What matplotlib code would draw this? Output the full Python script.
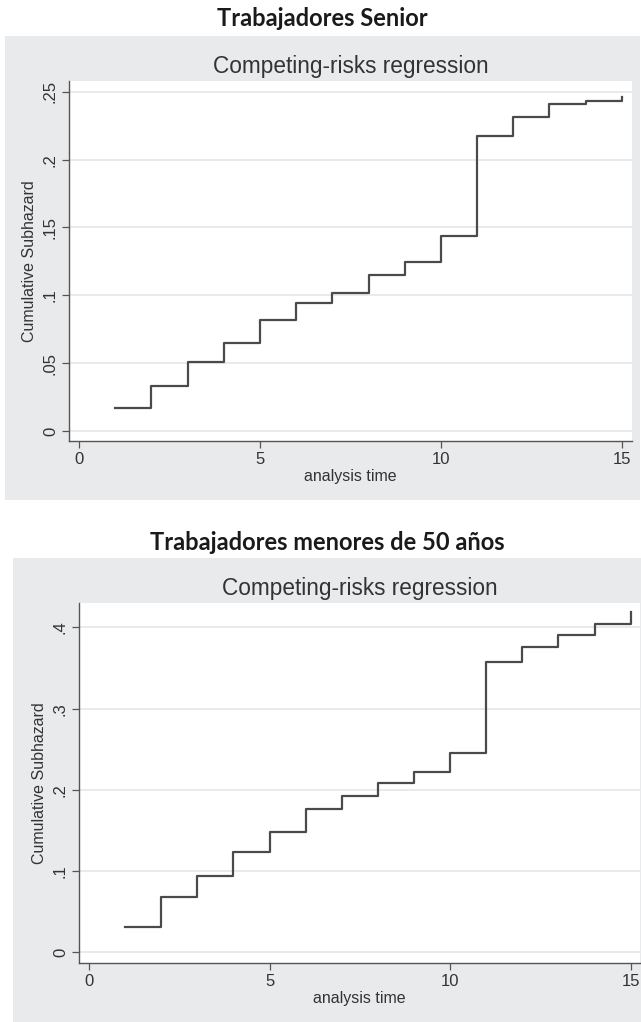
"""Two cumulative subhazard step plots (competing-risks regression)"""

import numpy as np
import matplotlib
matplotlib.use('Agg')
import matplotlib.pyplot as plt
from matplotlib.patches import Rectangle


# Data
times = [1, 2, 3, 4, 5, 6, 7, 8, 9, 10, 11, 12, 13, 14, 15]

senior = [0.017, 0.0335, 0.0505, 0.065, 0.082, 0.094, 0.102, 0.1148,
          0.1244, 0.1438, 0.2178, 0.2318, 0.2411, 0.2436, 0.2465]

menores = [0.0308, 0.0678, 0.0944, 0.1236, 0.148, 0.1768, 0.193, 0.209,
           0.2218, 0.2456, 0.357, 0.3762, 0.391, 0.404, 0.4185]

senior_yticks = [0, 0.05, 0.1, 0.15, 0.2, 0.25]
senior_ylabels = ["0", ".05", ".1", ".15", ".2", ".25"]
menores_yticks = [0, 0.1, 0.2, 0.3, 0.4]
menores_ylabels = ["0", ".1", ".2", ".3", ".4"]
xticks = [0, 5, 10, 15]

titles = ["Trabajadores Senior", "Trabajadores menores de 50 años"]
subtitle = "Competing-risks regression"


W, H = 641, 1022
BG = "#e9eaec"
LINE = "#4a4a4a"
AXC = "#555555"
GRID = "#e6e6e8"

plt.rcParams['font.family'] = ['Liberation Sans', 'DejaVu Sans']

fig = plt.figure(figsize=(W / 100, H / 100), dpi=100)


def px_rect(x0, y0, x1, y1):
    """pixel box (top-left origin) -> figure fraction [l, b, w, h]"""
    return [x0 / W, 1 - y1 / H, (x1 - x0) / W, (y1 - y0) / H]


def draw_panel(gray, plot, title_y, sub_y, y_data, yticks, ylabels,
               ylim, xlim, title):
    # gray graph region (behind the axes)
    l, b, w, h = px_rect(*gray)
    fig.patches.append(Rectangle((l, b), w, h, transform=fig.transFigure,
                                 facecolor=BG, edgecolor="none", zorder=-5))
    # main bold title above the gray region
    fig.text(0.5 * (gray[0] + gray[2]) / W, 1 - title_y / H, title,
             ha="center", va="center", fontsize=17, fontweight="bold",
             family=["Lato", "DejaVu Sans"], color="#1a1a1a")

    ax = fig.add_axes(px_rect(*plot))
    ax.set_facecolor("white")
    ax.step(times, y_data, where="post", color=LINE, lw=1.6, zorder=3)

    ax.set_xlim(xlim)
    ax.set_ylim(ylim)
    ax.set_xticks(xticks)
    ax.set_yticks(yticks)
    ax.set_yticklabels(ylabels, rotation=90, va="center")
    ax.grid(axis="y", color=GRID, lw=1.2)
    ax.set_axisbelow(True)

    for s in ["top", "right"]:
        ax.spines[s].set_visible(False)
    for s in ["left", "bottom"]:
        ax.spines[s].set_color(AXC)
        ax.spines[s].set_linewidth(1.0)
    ax.tick_params(direction="out", length=5, width=0.9, color=AXC,
                   labelsize=12, labelcolor="#333333", pad=3)

    ax.set_xlabel("analysis time", fontsize=11.5, color="#333333", labelpad=1)
    ax.set_ylabel("Cumulative Subhazard", fontsize=11.5, color="#333333",
                  labelpad=4)

    # subtitle centred over the plot region
    fig.text(0.5 * (plot[0] + plot[2]) / W, 1 - sub_y / H, subtitle,
             ha="center", va="center", fontsize=16.3, color="#333333")
    return ax


# top panel: Trabajadores Senior
draw_panel(gray=(5, 36, 640, 500), plot=(69, 81, 632, 441),
           title_y=18, sub_y=66, y_data=senior,
           yticks=senior_yticks, ylabels=senior_ylabels,
           ylim=(-0.0074, 0.258), xlim=(-0.276, 15.28), title=titles[0])

# bottom panel: Trabajadores menores de 50 años
draw_panel(gray=(13, 558, 641, 1022), plot=(79, 603, 640, 963),
           title_y=543, sub_y=588, y_data=menores,
           yticks=menores_yticks, ylabels=menores_ylabels,
           ylim=(-0.013, 0.430), xlim=(-0.277, 15.26), title=titles[1])

plt.savefig("out.png", dpi=100)
